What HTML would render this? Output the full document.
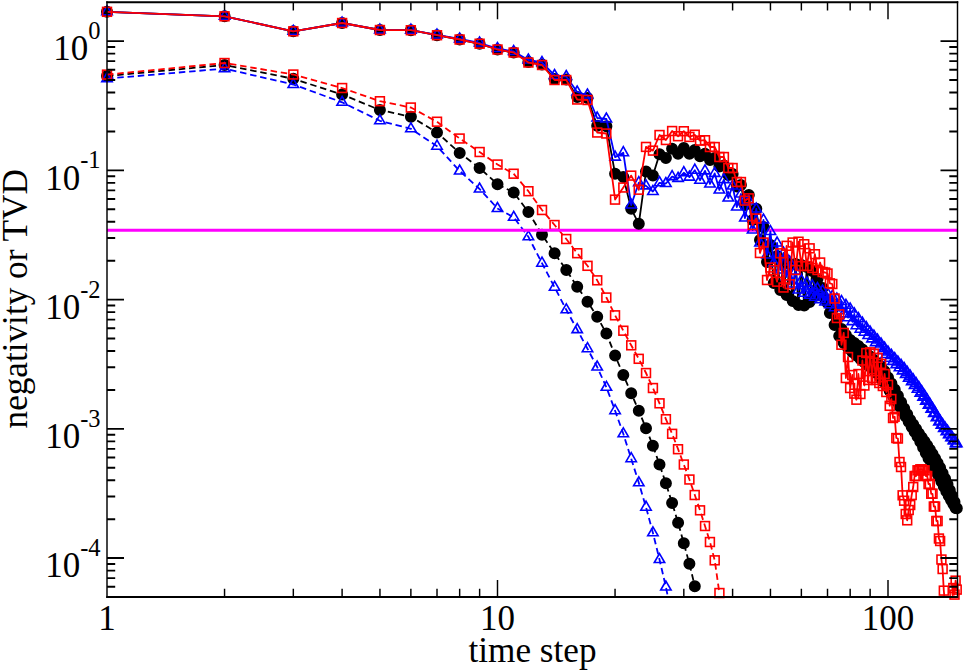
<!DOCTYPE html>
<html><head><meta charset="utf-8"><title>negativity or TVD vs time step</title>
<style>
html,body{margin:0;padding:0;background:#fff;}
body{width:966px;height:672px;overflow:hidden;}
svg{display:block;}
text{font-family:"Liberation Serif",serif;fill:#000;}
</style></head><body>
<svg width="966" height="672" viewBox="0 0 966 672">
<defs><clipPath id="c"><rect x="107.00" y="2.20" width="850.50" height="594.80"/></clipPath></defs>
<rect width="966" height="672" fill="#fff"/>
<path d="M107.0 76.0 L224.6 65.0 L293.3 78.8 L342.1 94.5 L379.9 110.0 L410.9 116.8 L437.0 132.5 L459.7 153.0 L479.6 168.0 L497.5 184.2 L513.7 192.5 L528.4 212.0 L542.0 234.7 L554.6 253.3 L566.3 270.0 L577.2 286.7 L587.5 301.7 L597.2 316.7 L606.4 333.5 L615.1 355.5 L623.3 375.0 L631.2 393.3 L638.8 410.8 L646.0 428.2 L652.9 445.8 L659.5 464.5 L665.9 483.3 L672.1 503.0 L678.1 522.8 L683.8 543.3 L689.4 563.8 L694.8 586.2" fill="none" stroke="#000" stroke-width="1.80" stroke-linejoin="round" stroke-dasharray="6.5 3.8" clip-path="url(#c)"/><g fill="#000" stroke="#000" stroke-width="1.60"><circle cx="107.0" cy="76.0" r="5.20"/><circle cx="224.6" cy="65.0" r="5.20"/><circle cx="293.3" cy="78.8" r="5.20"/><circle cx="342.1" cy="94.5" r="5.20"/><circle cx="379.9" cy="110.0" r="5.20"/><circle cx="410.9" cy="116.8" r="5.20"/><circle cx="437.0" cy="132.5" r="5.20"/><circle cx="459.7" cy="153.0" r="5.20"/><circle cx="479.6" cy="168.0" r="5.20"/><circle cx="497.5" cy="184.2" r="5.20"/><circle cx="513.7" cy="192.5" r="5.20"/><circle cx="528.4" cy="212.0" r="5.20"/><circle cx="542.0" cy="234.7" r="5.20"/><circle cx="554.6" cy="253.3" r="5.20"/><circle cx="566.3" cy="270.0" r="5.20"/><circle cx="577.2" cy="286.7" r="5.20"/><circle cx="587.5" cy="301.7" r="5.20"/><circle cx="597.2" cy="316.7" r="5.20"/><circle cx="606.4" cy="333.5" r="5.20"/><circle cx="615.1" cy="355.5" r="5.20"/><circle cx="623.3" cy="375.0" r="5.20"/><circle cx="631.2" cy="393.3" r="5.20"/><circle cx="638.8" cy="410.8" r="5.20"/><circle cx="646.0" cy="428.2" r="5.20"/><circle cx="652.9" cy="445.8" r="5.20"/><circle cx="659.5" cy="464.5" r="5.20"/><circle cx="665.9" cy="483.3" r="5.20"/><circle cx="672.1" cy="503.0" r="5.20"/><circle cx="678.1" cy="522.8" r="5.20"/><circle cx="683.8" cy="543.3" r="5.20"/><circle cx="689.4" cy="563.8" r="5.20"/><circle cx="694.8" cy="586.2" r="5.20"/></g>
<path d="M107.0 78.6 L224.6 68.6 L293.3 84.5 L342.1 102.3 L379.9 120.8 L410.9 128.8 L437.0 146.2 L459.7 171.0 L479.6 189.0 L497.5 208.5 L513.7 217.3 L528.4 236.8 L542.0 263.2 L554.6 287.3 L566.3 309.8 L577.2 329.6 L587.5 348.7 L597.2 367.0 L606.4 387.3 L615.1 410.7 L623.3 433.8 L631.2 458.7 L638.8 482.8 L646.0 507.2 L652.9 532.8 L659.5 559.5 L665.9 587.0 L672.1 618.0" fill="none" stroke="#0000ff" stroke-width="1.80" stroke-linejoin="round" stroke-dasharray="6.5 3.8" clip-path="url(#c)"/><g fill="none" stroke="#0000ff" stroke-width="1.60"><path d="M107.0 72.6L101.8 81.6L112.2 81.6Z"/><path d="M224.6 62.6L219.4 71.6L229.8 71.6Z"/><path d="M293.3 78.5L288.1 87.5L298.5 87.5Z"/><path d="M342.1 96.3L336.9 105.3L347.3 105.3Z"/><path d="M379.9 114.8L374.7 123.8L385.1 123.8Z"/><path d="M410.9 122.8L405.7 131.8L416.1 131.8Z"/><path d="M437.0 140.2L431.8 149.2L442.2 149.2Z"/><path d="M459.7 165.0L454.5 174.0L464.9 174.0Z"/><path d="M479.6 183.0L474.4 192.0L484.8 192.0Z"/><path d="M497.5 202.5L492.3 211.5L502.7 211.5Z"/><path d="M513.7 211.3L508.5 220.3L518.9 220.3Z"/><path d="M528.4 230.8L523.2 239.8L533.6 239.8Z"/><path d="M542.0 257.2L536.8 266.2L547.2 266.2Z"/><path d="M554.6 281.3L549.4 290.3L559.8 290.3Z"/><path d="M566.3 303.8L561.1 312.8L571.5 312.8Z"/><path d="M577.2 323.6L572.0 332.6L582.4 332.6Z"/><path d="M587.5 342.7L582.3 351.7L592.7 351.7Z"/><path d="M597.2 361.0L592.0 370.0L602.4 370.0Z"/><path d="M606.4 381.3L601.2 390.3L611.6 390.3Z"/><path d="M615.1 404.7L609.9 413.7L620.3 413.7Z"/><path d="M623.3 427.8L618.1 436.8L628.5 436.8Z"/><path d="M631.2 452.7L626.0 461.7L636.4 461.7Z"/><path d="M638.8 476.8L633.6 485.8L644.0 485.8Z"/><path d="M646.0 501.2L640.8 510.2L651.2 510.2Z"/><path d="M652.9 526.8L647.7 535.8L658.1 535.8Z"/><path d="M659.5 553.5L654.3 562.5L664.7 562.5Z"/><path d="M665.9 581.0L660.7 590.0L671.1 590.0Z"/></g>
<path d="M107.0 74.6 L224.6 63.0 L293.3 74.5 L342.1 88.0 L379.9 101.2 L410.9 107.5 L437.0 121.8 L459.7 138.5 L479.6 152.0 L497.5 164.5 L513.7 173.8 L528.4 191.2 L542.0 210.0 L554.6 225.0 L566.3 239.0 L577.2 253.2 L587.5 265.8 L597.2 280.3 L606.4 297.5 L615.1 315.3 L623.3 330.7 L631.2 345.3 L638.8 358.8 L646.0 373.0 L652.9 388.0 L659.5 403.3 L665.9 419.2 L672.1 433.8 L678.1 449.2 L683.8 464.5 L689.4 479.5 L694.8 495.0 L700.0 510.3 L705.0 526.0 L710.0 542.0 L714.7 560.3 L719.4 593.0" fill="none" stroke="#ff0000" stroke-width="1.80" stroke-linejoin="round" stroke-dasharray="6.5 3.8" clip-path="url(#c)"/><g fill="none" stroke="#ff0000" stroke-width="1.60"><rect x="102.6" y="70.2" width="8.84" height="8.84"/><rect x="220.1" y="58.6" width="8.84" height="8.84"/><rect x="288.9" y="70.1" width="8.84" height="8.84"/><rect x="337.7" y="83.6" width="8.84" height="8.84"/><rect x="375.5" y="96.8" width="8.84" height="8.84"/><rect x="406.4" y="103.1" width="8.84" height="8.84"/><rect x="432.6" y="117.3" width="8.84" height="8.84"/><rect x="455.2" y="134.1" width="8.84" height="8.84"/><rect x="475.2" y="147.6" width="8.84" height="8.84"/><rect x="493.1" y="160.1" width="8.84" height="8.84"/><rect x="509.2" y="169.3" width="8.84" height="8.84"/><rect x="524.0" y="186.8" width="8.84" height="8.84"/><rect x="537.6" y="205.6" width="8.84" height="8.84"/><rect x="550.1" y="220.6" width="8.84" height="8.84"/><rect x="561.8" y="234.6" width="8.84" height="8.84"/><rect x="572.8" y="248.8" width="8.84" height="8.84"/><rect x="583.1" y="261.4" width="8.84" height="8.84"/><rect x="592.8" y="275.9" width="8.84" height="8.84"/><rect x="601.9" y="293.1" width="8.84" height="8.84"/><rect x="610.6" y="310.9" width="8.84" height="8.84"/><rect x="618.9" y="326.3" width="8.84" height="8.84"/><rect x="626.8" y="340.9" width="8.84" height="8.84"/><rect x="634.3" y="354.4" width="8.84" height="8.84"/><rect x="641.6" y="368.6" width="8.84" height="8.84"/><rect x="648.5" y="383.6" width="8.84" height="8.84"/><rect x="655.1" y="398.9" width="8.84" height="8.84"/><rect x="661.5" y="414.8" width="8.84" height="8.84"/><rect x="667.7" y="429.4" width="8.84" height="8.84"/><rect x="673.6" y="444.8" width="8.84" height="8.84"/><rect x="679.4" y="460.1" width="8.84" height="8.84"/><rect x="685.0" y="475.1" width="8.84" height="8.84"/><rect x="690.3" y="490.6" width="8.84" height="8.84"/><rect x="695.6" y="505.9" width="8.84" height="8.84"/><rect x="700.6" y="521.6" width="8.84" height="8.84"/><rect x="705.5" y="537.6" width="8.84" height="8.84"/><rect x="710.3" y="555.9" width="8.84" height="8.84"/><rect x="715.0" y="588.6" width="8.84" height="8.84"/></g>
<line x1="107.0" y1="230.3" x2="957.5" y2="230.3" stroke="#ff00ff" stroke-width="3.0"/>
<path d="M107.0 11.8 L224.6 16.3 L293.3 31.3 L342.1 23.0 L379.9 30.0 L410.9 30.2 L437.0 35.2 L459.7 39.5 L479.6 43.8 L497.5 49.5 L513.7 52.5 L528.4 62.0 L542.0 64.5 L554.6 79.0 L566.3 79.5 L577.2 97.0 L587.5 98.0 L597.2 125.7 L606.4 126.2 L615.1 173.8 L623.3 177.0 L631.2 208.8 L638.8 223.8 L646.0 171.5 L652.9 175.5 L659.5 154.2 L665.9 158.1 L672.1 148.8 L678.1 153.8 L683.8 148.1 L689.4 153.8 L694.8 150.0 L700.0 156.2 L705.0 153.8 L710.0 160.0 L714.7 158.0 L719.4 166.5 L723.9 165.5 L728.3 175.0 L732.6 174.0 L736.8 186.5 L740.9 185.0 L744.9 205.0 L748.8 195.0 L752.6 220.0 L756.3 208.8 L760.0 240.0 L763.5 227.0 L767.0 262.0 L770.4 245.0 L773.8 283.0 L777.1 256.0 L780.3 290.0 L783.5 262.0 L786.6 295.0 L789.7 264.0 L792.7 301.0 L795.6 264.0 L798.5 305.0 L801.4 265.0 L804.2 305.5 L806.9 267.0 L809.6 302.0 L812.3 271.0 L814.9 296.0 L817.5 279.0 L820.1 289.0 L822.6 288.0 L825.1 299.0 L827.5 303.0 L829.9 313.0 L832.3 310.0 L834.6 325.0 L836.9 320.0 L839.2 336.0 L841.5 329.0 L843.7 343.0 L845.9 335.0 L848.0 348.0 L850.2 340.0 L852.3 352.0 L854.3 343.0 L856.4 355.5 L858.4 346.0 L860.4 359.0 L862.4 349.5 L864.4 362.3 L866.3 353.0 L868.2 365.4 L870.1 356.5 L872.0 368.8 L873.9 360.0 L875.7 372.5 L877.5 363.3 L879.3 376.0 L881.1 366.4 L882.8 380.9 L884.6 371.2 L886.3 385.6 L888.0 377.4 L889.7 390.7 L891.4 383.5 L893.0 395.9 L894.7 389.5 L896.3 401.0 L897.9 395.8 L899.5 406.3 L901.1 402.2 L902.6 411.4 L904.2 408.5 L905.7 416.6 L907.2 414.3 L908.7 421.8 L910.2 420.0 L911.7 426.9 L913.2 424.6 L914.6 431.8 L916.1 429.1 L917.5 436.6 L918.9 433.5 L920.3 441.8 L921.7 437.6 L923.1 447.4 L924.5 441.6 L925.8 452.9 L927.2 445.6 L928.5 458.3 L929.9 449.7 L931.2 463.1 L932.5 454.1 L933.8 467.7 L935.1 458.5 L936.4 472.2 L937.6 462.9 L938.9 476.6 L940.1 467.8 L941.4 481.6 L942.6 473.3 L943.8 486.5 L945.1 478.8 L946.3 491.3 L947.5 484.2 L948.7 495.8 L949.8 490.2 L951.0 499.9 L952.2 496.1 L953.3 504.0 L954.5 502.1 L955.6 508.0 L956.8 508.3" fill="none" stroke="#000" stroke-width="1.80" stroke-linejoin="round" clip-path="url(#c)"/><g fill="#000" stroke="#000" stroke-width="1.60"><circle cx="107.0" cy="11.8" r="5.20"/><circle cx="224.6" cy="16.3" r="5.20"/><circle cx="293.3" cy="31.3" r="5.20"/><circle cx="342.1" cy="23.0" r="5.20"/><circle cx="379.9" cy="30.0" r="5.20"/><circle cx="410.9" cy="30.2" r="5.20"/><circle cx="437.0" cy="35.2" r="5.20"/><circle cx="459.7" cy="39.5" r="5.20"/><circle cx="479.6" cy="43.8" r="5.20"/><circle cx="497.5" cy="49.5" r="5.20"/><circle cx="513.7" cy="52.5" r="5.20"/><circle cx="528.4" cy="62.0" r="5.20"/><circle cx="542.0" cy="64.5" r="5.20"/><circle cx="554.6" cy="79.0" r="5.20"/><circle cx="566.3" cy="79.5" r="5.20"/><circle cx="577.2" cy="97.0" r="5.20"/><circle cx="587.5" cy="98.0" r="5.20"/><circle cx="597.2" cy="125.7" r="5.20"/><circle cx="606.4" cy="126.2" r="5.20"/><circle cx="615.1" cy="173.8" r="5.20"/><circle cx="623.3" cy="177.0" r="5.20"/><circle cx="631.2" cy="208.8" r="5.20"/><circle cx="638.8" cy="223.8" r="5.20"/><circle cx="646.0" cy="171.5" r="5.20"/><circle cx="652.9" cy="175.5" r="5.20"/><circle cx="659.5" cy="154.2" r="5.20"/><circle cx="665.9" cy="158.1" r="5.20"/><circle cx="672.1" cy="148.8" r="5.20"/><circle cx="678.1" cy="153.8" r="5.20"/><circle cx="683.8" cy="148.1" r="5.20"/><circle cx="689.4" cy="153.8" r="5.20"/><circle cx="694.8" cy="150.0" r="5.20"/><circle cx="700.0" cy="156.2" r="5.20"/><circle cx="705.0" cy="153.8" r="5.20"/><circle cx="710.0" cy="160.0" r="5.20"/><circle cx="714.7" cy="158.0" r="5.20"/><circle cx="719.4" cy="166.5" r="5.20"/><circle cx="723.9" cy="165.5" r="5.20"/><circle cx="728.3" cy="175.0" r="5.20"/><circle cx="732.6" cy="174.0" r="5.20"/><circle cx="736.8" cy="186.5" r="5.20"/><circle cx="740.9" cy="185.0" r="5.20"/><circle cx="744.9" cy="205.0" r="5.20"/><circle cx="748.8" cy="195.0" r="5.20"/><circle cx="752.6" cy="220.0" r="5.20"/><circle cx="756.3" cy="208.8" r="5.20"/><circle cx="760.0" cy="240.0" r="5.20"/><circle cx="763.5" cy="227.0" r="5.20"/><circle cx="767.0" cy="262.0" r="5.20"/><circle cx="770.4" cy="245.0" r="5.20"/><circle cx="773.8" cy="283.0" r="5.20"/><circle cx="777.1" cy="256.0" r="5.20"/><circle cx="780.3" cy="290.0" r="5.20"/><circle cx="783.5" cy="262.0" r="5.20"/><circle cx="786.6" cy="295.0" r="5.20"/><circle cx="789.7" cy="264.0" r="5.20"/><circle cx="792.7" cy="301.0" r="5.20"/><circle cx="795.6" cy="264.0" r="5.20"/><circle cx="798.5" cy="305.0" r="5.20"/><circle cx="801.4" cy="265.0" r="5.20"/><circle cx="804.2" cy="305.5" r="5.20"/><circle cx="806.9" cy="267.0" r="5.20"/><circle cx="809.6" cy="302.0" r="5.20"/><circle cx="812.3" cy="271.0" r="5.20"/><circle cx="814.9" cy="296.0" r="5.20"/><circle cx="817.5" cy="279.0" r="5.20"/><circle cx="820.1" cy="289.0" r="5.20"/><circle cx="822.6" cy="288.0" r="5.20"/><circle cx="825.1" cy="299.0" r="5.20"/><circle cx="827.5" cy="303.0" r="5.20"/><circle cx="829.9" cy="313.0" r="5.20"/><circle cx="832.3" cy="310.0" r="5.20"/><circle cx="834.6" cy="325.0" r="5.20"/><circle cx="836.9" cy="320.0" r="5.20"/><circle cx="839.2" cy="336.0" r="5.20"/><circle cx="841.5" cy="329.0" r="5.20"/><circle cx="843.7" cy="343.0" r="5.20"/><circle cx="845.9" cy="335.0" r="5.20"/><circle cx="848.0" cy="348.0" r="5.20"/><circle cx="850.2" cy="340.0" r="5.20"/><circle cx="852.3" cy="352.0" r="5.20"/><circle cx="854.3" cy="343.0" r="5.20"/><circle cx="856.4" cy="355.5" r="5.20"/><circle cx="858.4" cy="346.0" r="5.20"/><circle cx="860.4" cy="359.0" r="5.20"/><circle cx="862.4" cy="349.5" r="5.20"/><circle cx="864.4" cy="362.3" r="5.20"/><circle cx="866.3" cy="353.0" r="5.20"/><circle cx="868.2" cy="365.4" r="5.20"/><circle cx="870.1" cy="356.5" r="5.20"/><circle cx="872.0" cy="368.8" r="5.20"/><circle cx="873.9" cy="360.0" r="5.20"/><circle cx="875.7" cy="372.5" r="5.20"/><circle cx="877.5" cy="363.3" r="5.20"/><circle cx="879.3" cy="376.0" r="5.20"/><circle cx="881.1" cy="366.4" r="5.20"/><circle cx="882.8" cy="380.9" r="5.20"/><circle cx="884.6" cy="371.2" r="5.20"/><circle cx="886.3" cy="385.6" r="5.20"/><circle cx="888.0" cy="377.4" r="5.20"/><circle cx="889.7" cy="390.7" r="5.20"/><circle cx="891.4" cy="383.5" r="5.20"/><circle cx="893.0" cy="395.9" r="5.20"/><circle cx="894.7" cy="389.5" r="5.20"/><circle cx="896.3" cy="401.0" r="5.20"/><circle cx="897.9" cy="395.8" r="5.20"/><circle cx="899.5" cy="406.3" r="5.20"/><circle cx="901.1" cy="402.2" r="5.20"/><circle cx="902.6" cy="411.4" r="5.20"/><circle cx="904.2" cy="408.5" r="5.20"/><circle cx="905.7" cy="416.6" r="5.20"/><circle cx="907.2" cy="414.3" r="5.20"/><circle cx="908.7" cy="421.8" r="5.20"/><circle cx="910.2" cy="420.0" r="5.20"/><circle cx="911.7" cy="426.9" r="5.20"/><circle cx="913.2" cy="424.6" r="5.20"/><circle cx="914.6" cy="431.8" r="5.20"/><circle cx="916.1" cy="429.1" r="5.20"/><circle cx="917.5" cy="436.6" r="5.20"/><circle cx="918.9" cy="433.5" r="5.20"/><circle cx="920.3" cy="441.8" r="5.20"/><circle cx="921.7" cy="437.6" r="5.20"/><circle cx="923.1" cy="447.4" r="5.20"/><circle cx="924.5" cy="441.6" r="5.20"/><circle cx="925.8" cy="452.9" r="5.20"/><circle cx="927.2" cy="445.6" r="5.20"/><circle cx="928.5" cy="458.3" r="5.20"/><circle cx="929.9" cy="449.7" r="5.20"/><circle cx="931.2" cy="463.1" r="5.20"/><circle cx="932.5" cy="454.1" r="5.20"/><circle cx="933.8" cy="467.7" r="5.20"/><circle cx="935.1" cy="458.5" r="5.20"/><circle cx="936.4" cy="472.2" r="5.20"/><circle cx="937.6" cy="462.9" r="5.20"/><circle cx="938.9" cy="476.6" r="5.20"/><circle cx="940.1" cy="467.8" r="5.20"/><circle cx="941.4" cy="481.6" r="5.20"/><circle cx="942.6" cy="473.3" r="5.20"/><circle cx="943.8" cy="486.5" r="5.20"/><circle cx="945.1" cy="478.8" r="5.20"/><circle cx="946.3" cy="491.3" r="5.20"/><circle cx="947.5" cy="484.2" r="5.20"/><circle cx="948.7" cy="495.8" r="5.20"/><circle cx="949.8" cy="490.2" r="5.20"/><circle cx="951.0" cy="499.9" r="5.20"/><circle cx="952.2" cy="496.1" r="5.20"/><circle cx="953.3" cy="504.0" r="5.20"/><circle cx="954.5" cy="502.1" r="5.20"/><circle cx="955.6" cy="508.0" r="5.20"/><circle cx="956.8" cy="508.3" r="5.20"/></g>
<path d="M107.0 11.8 L224.6 16.3 L293.3 31.3 L342.1 23.0 L379.9 30.0 L410.9 30.2 L437.0 35.0 L459.7 39.0 L479.6 43.0 L497.5 48.5 L513.7 51.5 L528.4 60.0 L542.0 62.5 L554.6 75.5 L566.3 76.5 L577.2 92.0 L587.5 95.0 L597.2 118.0 L606.4 119.0 L615.1 157.1 L623.3 152.8 L631.2 205.0 L638.8 182.8 L646.0 185.9 L652.9 191.5 L659.5 182.8 L665.9 183.5 L672.1 176.6 L678.1 178.4 L683.8 172.8 L689.4 177.1 L694.8 170.2 L700.0 180.2 L705.0 170.9 L710.0 184.0 L714.7 173.4 L719.4 190.0 L723.9 179.6 L728.3 198.0 L732.6 186.0 L736.8 207.0 L740.9 194.0 L744.9 218.0 L748.8 201.0 L752.6 230.0 L756.3 209.0 L760.0 243.0 L763.5 220.0 L767.0 255.0 L770.4 231.5 L773.8 263.0 L777.1 243.0 L780.3 270.0 L783.5 253.0 L786.6 277.0 L789.7 262.0 L792.7 284.0 L795.6 271.0 L798.5 290.0 L801.4 280.5 L804.2 293.2 L806.9 283.3 L809.6 295.2 L812.3 285.9 L814.9 297.2 L817.5 288.5 L820.1 299.6 L822.6 291.0 L825.1 302.0 L827.5 293.7 L829.9 304.8 L832.3 296.4 L834.6 307.8 L836.9 299.0 L839.2 310.7 L841.5 301.5 L843.7 313.9 L845.9 305.3 L848.0 317.7 L850.2 309.0 L852.3 321.6 L854.3 313.9 L856.4 325.7 L858.4 318.7 L860.4 329.2 L862.4 323.3 L864.4 332.2 L866.3 327.7 L868.2 335.5 L870.1 332.0 L872.0 338.9 L873.9 336.1 L875.7 342.6 L877.5 340.0 L879.3 346.5 L881.1 344.0 L882.8 350.6 L884.6 348.1 L886.3 354.5 L888.0 352.0 L889.7 358.2 L891.4 355.4 L893.0 361.4 L894.7 358.7 L896.3 364.6 L897.9 362.0 L899.5 367.8 L901.1 365.3 L902.6 370.9 L904.2 368.5 L905.7 374.4 L907.2 372.4 L908.7 378.1 L910.2 376.1 L911.7 381.7 L913.2 379.9 L914.6 385.5 L916.1 383.7 L917.5 389.2 L918.9 387.5 L920.3 393.1 L921.7 391.8 L923.1 397.1 L924.5 395.9 L925.8 401.2 L927.2 400.1 L928.5 405.3 L929.9 404.3 L931.2 409.3 L932.5 408.5 L933.8 413.5 L935.1 412.9 L936.4 417.8 L937.6 417.3 L938.9 422.0 L940.1 421.2 L941.4 425.3 L942.6 424.6 L943.8 428.5 L945.1 428.0 L946.3 431.7 L947.5 431.2 L948.7 434.8 L949.8 434.4 L951.0 437.8 L952.2 437.5 L953.3 440.8 L954.5 440.6 L955.6 443.7 L956.8 443.6" fill="none" stroke="#0000ff" stroke-width="1.80" stroke-linejoin="round" clip-path="url(#c)"/><g fill="none" stroke="#0000ff" stroke-width="1.60"><path d="M107.0 5.8L101.8 14.8L112.2 14.8Z"/><path d="M224.6 10.3L219.4 19.3L229.8 19.3Z"/><path d="M293.3 25.3L288.1 34.3L298.5 34.3Z"/><path d="M342.1 17.0L336.9 26.0L347.3 26.0Z"/><path d="M379.9 24.0L374.7 33.0L385.1 33.0Z"/><path d="M410.9 24.2L405.7 33.3L416.1 33.3Z"/><path d="M437.0 29.0L431.8 38.0L442.2 38.0Z"/><path d="M459.7 33.0L454.5 42.0L464.9 42.0Z"/><path d="M479.6 37.0L474.4 46.0L484.8 46.0Z"/><path d="M497.5 42.5L492.3 51.5L502.7 51.5Z"/><path d="M513.7 45.5L508.5 54.5L518.9 54.5Z"/><path d="M528.4 54.0L523.2 63.0L533.6 63.0Z"/><path d="M542.0 56.5L536.8 65.5L547.2 65.5Z"/><path d="M554.6 69.5L549.4 78.5L559.8 78.5Z"/><path d="M566.3 70.5L561.1 79.5L571.5 79.5Z"/><path d="M577.2 86.0L572.0 95.0L582.4 95.0Z"/><path d="M587.5 89.0L582.3 98.0L592.7 98.0Z"/><path d="M597.2 112.0L592.0 121.0L602.4 121.0Z"/><path d="M606.4 113.0L601.2 122.0L611.6 122.0Z"/><path d="M615.1 151.1L609.9 160.1L620.3 160.1Z"/><path d="M623.3 146.7L618.1 155.8L628.5 155.8Z"/><path d="M631.2 199.0L626.0 208.0L636.4 208.0Z"/><path d="M638.8 176.7L633.6 185.8L644.0 185.8Z"/><path d="M646.0 179.9L640.8 188.9L651.2 188.9Z"/><path d="M652.9 185.5L647.7 194.5L658.1 194.5Z"/><path d="M659.5 176.7L654.3 185.8L664.7 185.8Z"/><path d="M665.9 177.5L660.7 186.5L671.1 186.5Z"/><path d="M672.1 170.6L666.9 179.6L677.3 179.6Z"/><path d="M678.1 172.4L672.9 181.4L683.3 181.4Z"/><path d="M683.8 166.7L678.6 175.8L689.0 175.8Z"/><path d="M689.4 171.1L684.2 180.1L694.6 180.1Z"/><path d="M694.8 164.2L689.6 173.3L700.0 173.3Z"/><path d="M700.0 174.2L694.8 183.3L705.2 183.3Z"/><path d="M705.0 164.9L699.8 173.9L710.2 173.9Z"/><path d="M710.0 178.0L704.8 187.0L715.2 187.0Z"/><path d="M714.7 167.4L709.5 176.4L719.9 176.4Z"/><path d="M719.4 184.0L714.2 193.0L724.6 193.0Z"/><path d="M723.9 173.6L718.7 182.6L729.1 182.6Z"/><path d="M728.3 192.0L723.1 201.0L733.5 201.0Z"/><path d="M732.6 180.0L727.4 189.0L737.8 189.0Z"/><path d="M736.8 201.0L731.6 210.0L742.0 210.0Z"/><path d="M740.9 188.0L735.7 197.0L746.1 197.0Z"/><path d="M744.9 212.0L739.7 221.0L750.1 221.0Z"/><path d="M748.8 195.0L743.6 204.0L754.0 204.0Z"/><path d="M752.6 224.0L747.4 233.0L757.8 233.0Z"/><path d="M756.3 203.0L751.1 212.0L761.5 212.0Z"/><path d="M760.0 237.0L754.8 246.0L765.2 246.0Z"/><path d="M763.5 214.0L758.3 223.0L768.7 223.0Z"/><path d="M767.0 249.0L761.8 258.0L772.2 258.0Z"/><path d="M770.4 225.5L765.2 234.5L775.6 234.5Z"/><path d="M773.8 257.0L768.6 266.0L779.0 266.0Z"/><path d="M777.1 237.0L771.9 246.0L782.3 246.0Z"/><path d="M780.3 264.0L775.1 273.0L785.5 273.0Z"/><path d="M783.5 247.0L778.3 256.0L788.7 256.0Z"/><path d="M786.6 271.0L781.4 280.0L791.8 280.0Z"/><path d="M789.7 256.0L784.5 265.0L794.9 265.0Z"/><path d="M792.7 278.0L787.5 287.0L797.9 287.0Z"/><path d="M795.6 265.0L790.4 274.0L800.8 274.0Z"/><path d="M798.5 284.0L793.3 293.0L803.7 293.0Z"/><path d="M801.4 274.5L796.2 283.5L806.6 283.5Z"/><path d="M804.2 287.2L799.0 296.2L809.4 296.2Z"/><path d="M806.9 277.2L801.7 286.3L812.1 286.3Z"/><path d="M809.6 289.2L804.4 298.2L814.8 298.2Z"/><path d="M812.3 279.9L807.1 288.9L817.5 288.9Z"/><path d="M814.9 291.2L809.7 300.2L820.1 300.2Z"/><path d="M817.5 282.5L812.3 291.5L822.7 291.5Z"/><path d="M820.1 293.5L814.9 302.6L825.3 302.6Z"/><path d="M822.6 285.0L817.4 294.0L827.8 294.0Z"/><path d="M825.1 296.0L819.9 305.0L830.3 305.0Z"/><path d="M827.5 287.7L822.3 296.7L832.7 296.7Z"/><path d="M829.9 298.8L824.7 307.8L835.1 307.8Z"/><path d="M832.3 290.4L827.1 299.4L837.5 299.4Z"/><path d="M834.6 301.8L829.4 310.8L839.8 310.8Z"/><path d="M836.9 293.0L831.7 302.0L842.1 302.0Z"/><path d="M839.2 304.7L834.0 313.8L844.4 313.8Z"/><path d="M841.5 295.5L836.3 304.5L846.7 304.5Z"/><path d="M843.7 307.9L838.5 316.9L848.9 316.9Z"/><path d="M845.9 299.3L840.7 308.3L851.1 308.3Z"/><path d="M848.0 311.7L842.8 320.7L853.2 320.7Z"/><path d="M850.2 303.0L845.0 312.0L855.4 312.0Z"/><path d="M852.3 315.6L847.1 324.6L857.5 324.6Z"/><path d="M854.3 307.9L849.1 316.9L859.5 316.9Z"/><path d="M856.4 319.7L851.2 328.7L861.6 328.7Z"/><path d="M858.4 312.7L853.2 321.7L863.6 321.7Z"/><path d="M860.4 323.2L855.2 332.2L865.6 332.2Z"/><path d="M862.4 317.2L857.2 326.3L867.6 326.3Z"/><path d="M864.4 326.2L859.2 335.2L869.6 335.2Z"/><path d="M866.3 321.7L861.1 330.7L871.5 330.7Z"/><path d="M868.2 329.5L863.0 338.5L873.4 338.5Z"/><path d="M870.1 326.0L864.9 335.0L875.3 335.0Z"/><path d="M872.0 332.9L866.8 341.9L877.2 341.9Z"/><path d="M873.9 330.1L868.7 339.1L879.1 339.1Z"/><path d="M875.7 336.6L870.5 345.6L880.9 345.6Z"/><path d="M877.5 334.0L872.3 343.0L882.7 343.0Z"/><path d="M879.3 340.5L874.1 349.5L884.5 349.5Z"/><path d="M881.1 338.0L875.9 347.0L886.3 347.0Z"/><path d="M882.8 344.6L877.6 353.6L888.0 353.6Z"/><path d="M884.6 342.1L879.4 351.1L889.8 351.1Z"/><path d="M886.3 348.5L881.1 357.5L891.5 357.5Z"/><path d="M888.0 346.0L882.8 355.0L893.2 355.0Z"/><path d="M889.7 352.1L884.5 361.2L894.9 361.2Z"/><path d="M891.4 349.4L886.2 358.4L896.6 358.4Z"/><path d="M893.0 355.4L887.8 364.4L898.2 364.4Z"/><path d="M894.7 352.7L889.5 361.7L899.9 361.7Z"/><path d="M896.3 358.6L891.1 367.6L901.5 367.6Z"/><path d="M897.9 356.0L892.7 365.0L903.1 365.0Z"/><path d="M899.5 361.8L894.3 370.8L904.7 370.8Z"/><path d="M901.1 359.3L895.9 368.3L906.3 368.3Z"/><path d="M902.6 364.9L897.4 373.9L907.8 373.9Z"/><path d="M904.2 362.5L899.0 371.5L909.4 371.5Z"/><path d="M905.7 368.4L900.5 377.4L910.9 377.4Z"/><path d="M907.2 366.3L902.0 375.4L912.4 375.4Z"/><path d="M908.7 372.1L903.5 381.1L913.9 381.1Z"/><path d="M910.2 370.1L905.0 379.1L915.4 379.1Z"/><path d="M911.7 375.7L906.5 384.7L916.9 384.7Z"/><path d="M913.2 373.9L908.0 382.9L918.4 382.9Z"/><path d="M914.6 379.5L909.4 388.5L919.8 388.5Z"/><path d="M916.1 377.7L910.9 386.8L921.3 386.8Z"/><path d="M917.5 383.2L912.3 392.2L922.7 392.2Z"/><path d="M918.9 381.5L913.7 390.5L924.1 390.5Z"/><path d="M920.3 387.1L915.1 396.1L925.5 396.1Z"/><path d="M921.7 385.7L916.5 394.8L926.9 394.8Z"/><path d="M923.1 391.1L917.9 400.1L928.3 400.1Z"/><path d="M924.5 389.9L919.3 398.9L929.7 398.9Z"/><path d="M925.8 395.1L920.6 404.2L931.0 404.2Z"/><path d="M927.2 394.1L922.0 403.1L932.4 403.1Z"/><path d="M928.5 399.3L923.3 408.3L933.7 408.3Z"/><path d="M929.9 398.3L924.7 407.4L935.1 407.4Z"/><path d="M931.2 403.3L926.0 412.3L936.4 412.3Z"/><path d="M932.5 402.5L927.3 411.5L937.7 411.5Z"/><path d="M933.8 407.5L928.6 416.5L939.0 416.5Z"/><path d="M935.1 406.9L929.9 416.0L940.3 416.0Z"/><path d="M936.4 411.8L931.2 420.8L941.6 420.8Z"/><path d="M937.6 411.3L932.4 420.3L942.8 420.3Z"/><path d="M938.9 416.0L933.7 425.0L944.1 425.0Z"/><path d="M940.1 415.2L934.9 424.2L945.3 424.2Z"/><path d="M941.4 419.3L936.2 428.3L946.6 428.3Z"/><path d="M942.6 418.6L937.4 427.6L947.8 427.6Z"/><path d="M943.8 422.5L938.6 431.5L949.0 431.5Z"/><path d="M945.1 422.0L939.9 431.0L950.3 431.0Z"/><path d="M946.3 425.7L941.1 434.7L951.5 434.7Z"/><path d="M947.5 425.2L942.3 434.2L952.7 434.2Z"/><path d="M948.7 428.8L943.5 437.8L953.9 437.8Z"/><path d="M949.8 428.4L944.6 437.4L955.0 437.4Z"/><path d="M951.0 431.8L945.8 440.8L956.2 440.8Z"/><path d="M952.2 431.5L947.0 440.5L957.4 440.5Z"/><path d="M953.3 434.8L948.1 443.8L958.5 443.8Z"/><path d="M954.5 434.6L949.3 443.6L959.7 443.6Z"/><path d="M955.6 437.7L950.4 446.7L960.8 446.7Z"/><path d="M956.8 437.6L951.6 446.6L962.0 446.6Z"/></g>
<path d="M107.0 11.8 L224.6 16.3 L293.3 31.3 L342.1 23.0 L379.9 30.0 L410.9 30.2 L437.0 35.2 L459.7 39.5 L479.6 43.8 L497.5 49.5 L513.7 52.5 L528.4 62.5 L542.0 65.0 L554.6 80.0 L566.3 80.0 L577.2 99.5 L587.5 100.0 L597.2 132.5 L606.4 133.5 L615.1 199.6 L623.3 187.5 L631.2 175.6 L638.8 189.8 L646.0 146.9 L652.9 150.6 L659.5 135.0 L665.9 140.0 L672.1 131.0 L678.1 136.2 L683.8 131.2 L689.4 136.9 L694.8 134.8 L700.0 140.6 L705.0 140.2 L710.0 147.0 L714.7 147.0 L719.4 157.0 L723.9 157.0 L728.3 168.0 L732.6 168.0 L736.8 182.0 L740.9 182.0 L744.9 200.6 L748.8 198.3 L752.6 225.0 L756.3 218.5 L760.0 253.0 L763.5 242.5 L767.0 280.0 L770.4 267.5 L773.8 270.0 L777.1 281.7 L780.3 253.3 L783.5 287.5 L786.6 245.8 L789.7 284.2 L792.7 242.5 L795.6 270.0 L798.5 241.7 L801.4 266.0 L804.2 244.2 L806.9 266.0 L809.6 248.3 L812.3 268.0 L814.9 254.2 L817.5 270.0 L820.1 262.5 L822.6 272.0 L825.1 272.5 L827.5 273.5 L829.9 283.3 L832.3 284.0 L834.6 298.5 L836.9 318.0 L839.2 314.3 L841.5 344.8 L843.7 332.9 L845.9 378.0 L848.0 357.0 L850.2 388.0 L852.3 375.0 L854.3 393.6 L856.4 399.7 L858.4 374.0 L860.4 394.0 L862.4 360.5 L864.4 385.5 L866.3 353.0 L868.2 380.0 L870.1 352.3 L872.0 378.0 L873.9 353.7 L875.7 380.0 L877.5 357.8 L879.3 383.0 L881.1 363.9 L882.8 386.0 L884.6 374.0 L886.3 392.0 L888.0 384.8 L889.7 405.8 L891.4 399.0 L893.0 418.0 L894.7 416.7 L896.3 438.0 L897.9 438.5 L899.5 462.0 L901.1 467.0 L902.6 495.3 L904.2 500.7 L905.7 514.0 L907.2 520.3 L908.7 510.0 L910.2 505.0 L911.7 495.0 L913.2 487.0 L914.6 476.0 L916.1 476.0 L917.5 470.3 L918.9 470.3 L920.3 469.3 L921.7 469.3 L923.1 470.3 L924.5 470.3 L925.8 476.0 L927.2 476.0 L928.5 484.0 L929.9 484.0 L931.2 493.8 L932.5 493.8 L933.8 506.5 L935.1 506.5 L936.4 521.0 L937.6 521.0 L938.9 538.5 L940.1 541.0 L941.4 559.5 L942.6 569.0 L943.8 590.6 L945.1 605.0 L946.3 620.0 L947.5 630.0 L948.7 630.0 L949.8 620.0 L951.0 612.0 L952.2 603.0 L953.3 588.0 L954.5 594.6 L955.6 580.6 L956.8 589.6" fill="none" stroke="#ff0000" stroke-width="1.80" stroke-linejoin="round" clip-path="url(#c)"/><g fill="none" stroke="#ff0000" stroke-width="1.60"><rect x="102.6" y="7.4" width="8.84" height="8.84"/><rect x="220.1" y="11.9" width="8.84" height="8.84"/><rect x="288.9" y="26.9" width="8.84" height="8.84"/><rect x="337.7" y="18.6" width="8.84" height="8.84"/><rect x="375.5" y="25.6" width="8.84" height="8.84"/><rect x="406.4" y="25.8" width="8.84" height="8.84"/><rect x="432.6" y="30.8" width="8.84" height="8.84"/><rect x="455.2" y="35.1" width="8.84" height="8.84"/><rect x="475.2" y="39.3" width="8.84" height="8.84"/><rect x="493.1" y="45.1" width="8.84" height="8.84"/><rect x="509.2" y="48.1" width="8.84" height="8.84"/><rect x="524.0" y="58.1" width="8.84" height="8.84"/><rect x="537.6" y="60.6" width="8.84" height="8.84"/><rect x="550.1" y="75.6" width="8.84" height="8.84"/><rect x="561.8" y="75.6" width="8.84" height="8.84"/><rect x="572.8" y="95.1" width="8.84" height="8.84"/><rect x="583.1" y="95.6" width="8.84" height="8.84"/><rect x="592.8" y="128.1" width="8.84" height="8.84"/><rect x="601.9" y="129.1" width="8.84" height="8.84"/><rect x="610.6" y="195.2" width="8.84" height="8.84"/><rect x="618.9" y="183.1" width="8.84" height="8.84"/><rect x="626.8" y="171.2" width="8.84" height="8.84"/><rect x="634.3" y="185.3" width="8.84" height="8.84"/><rect x="641.6" y="142.5" width="8.84" height="8.84"/><rect x="648.5" y="146.2" width="8.84" height="8.84"/><rect x="655.1" y="130.6" width="8.84" height="8.84"/><rect x="661.5" y="135.6" width="8.84" height="8.84"/><rect x="667.7" y="126.6" width="8.84" height="8.84"/><rect x="673.6" y="131.8" width="8.84" height="8.84"/><rect x="679.4" y="126.8" width="8.84" height="8.84"/><rect x="685.0" y="132.5" width="8.84" height="8.84"/><rect x="690.3" y="130.3" width="8.84" height="8.84"/><rect x="695.6" y="136.2" width="8.84" height="8.84"/><rect x="700.6" y="135.8" width="8.84" height="8.84"/><rect x="705.5" y="142.6" width="8.84" height="8.84"/><rect x="710.3" y="142.6" width="8.84" height="8.84"/><rect x="715.0" y="152.6" width="8.84" height="8.84"/><rect x="719.5" y="152.6" width="8.84" height="8.84"/><rect x="723.9" y="163.6" width="8.84" height="8.84"/><rect x="728.2" y="163.6" width="8.84" height="8.84"/><rect x="732.4" y="177.6" width="8.84" height="8.84"/><rect x="736.5" y="177.6" width="8.84" height="8.84"/><rect x="740.4" y="196.2" width="8.84" height="8.84"/><rect x="744.3" y="193.9" width="8.84" height="8.84"/><rect x="748.2" y="220.6" width="8.84" height="8.84"/><rect x="751.9" y="214.1" width="8.84" height="8.84"/><rect x="755.5" y="248.6" width="8.84" height="8.84"/><rect x="759.1" y="238.1" width="8.84" height="8.84"/><rect x="762.6" y="275.6" width="8.84" height="8.84"/><rect x="766.0" y="263.1" width="8.84" height="8.84"/><rect x="769.4" y="265.6" width="8.84" height="8.84"/><rect x="772.7" y="277.3" width="8.84" height="8.84"/><rect x="775.9" y="248.9" width="8.84" height="8.84"/><rect x="779.1" y="283.1" width="8.84" height="8.84"/><rect x="782.2" y="241.4" width="8.84" height="8.84"/><rect x="785.2" y="279.8" width="8.84" height="8.84"/><rect x="788.2" y="238.1" width="8.84" height="8.84"/><rect x="791.2" y="265.6" width="8.84" height="8.84"/><rect x="794.1" y="237.3" width="8.84" height="8.84"/><rect x="796.9" y="261.6" width="8.84" height="8.84"/><rect x="799.8" y="239.8" width="8.84" height="8.84"/><rect x="802.5" y="261.6" width="8.84" height="8.84"/><rect x="805.2" y="243.9" width="8.84" height="8.84"/><rect x="807.9" y="263.6" width="8.84" height="8.84"/><rect x="810.5" y="249.8" width="8.84" height="8.84"/><rect x="813.1" y="265.6" width="8.84" height="8.84"/><rect x="815.7" y="258.1" width="8.84" height="8.84"/><rect x="818.2" y="267.6" width="8.84" height="8.84"/><rect x="820.7" y="268.1" width="8.84" height="8.84"/><rect x="823.1" y="269.1" width="8.84" height="8.84"/><rect x="825.5" y="278.9" width="8.84" height="8.84"/><rect x="827.9" y="279.6" width="8.84" height="8.84"/><rect x="830.2" y="294.1" width="8.84" height="8.84"/><rect x="832.5" y="313.6" width="8.84" height="8.84"/><rect x="834.8" y="309.9" width="8.84" height="8.84"/><rect x="837.0" y="340.3" width="8.84" height="8.84"/><rect x="839.3" y="328.5" width="8.84" height="8.84"/><rect x="841.4" y="373.6" width="8.84" height="8.84"/><rect x="843.6" y="352.6" width="8.84" height="8.84"/><rect x="845.7" y="383.6" width="8.84" height="8.84"/><rect x="847.8" y="370.6" width="8.84" height="8.84"/><rect x="849.9" y="389.2" width="8.84" height="8.84"/><rect x="852.0" y="395.3" width="8.84" height="8.84"/><rect x="854.0" y="369.6" width="8.84" height="8.84"/><rect x="856.0" y="389.6" width="8.84" height="8.84"/><rect x="858.0" y="356.1" width="8.84" height="8.84"/><rect x="860.0" y="381.1" width="8.84" height="8.84"/><rect x="861.9" y="348.6" width="8.84" height="8.84"/><rect x="863.8" y="375.6" width="8.84" height="8.84"/><rect x="865.7" y="347.9" width="8.84" height="8.84"/><rect x="867.6" y="373.6" width="8.84" height="8.84"/><rect x="869.4" y="349.3" width="8.84" height="8.84"/><rect x="871.3" y="375.6" width="8.84" height="8.84"/><rect x="873.1" y="353.4" width="8.84" height="8.84"/><rect x="874.9" y="378.6" width="8.84" height="8.84"/><rect x="876.7" y="359.5" width="8.84" height="8.84"/><rect x="878.4" y="381.6" width="8.84" height="8.84"/><rect x="880.2" y="369.6" width="8.84" height="8.84"/><rect x="881.9" y="387.6" width="8.84" height="8.84"/><rect x="883.6" y="380.4" width="8.84" height="8.84"/><rect x="885.3" y="401.4" width="8.84" height="8.84"/><rect x="886.9" y="394.6" width="8.84" height="8.84"/><rect x="888.6" y="413.6" width="8.84" height="8.84"/><rect x="890.2" y="412.3" width="8.84" height="8.84"/><rect x="891.9" y="433.6" width="8.84" height="8.84"/><rect x="893.5" y="434.1" width="8.84" height="8.84"/><rect x="895.1" y="457.6" width="8.84" height="8.84"/><rect x="896.6" y="462.6" width="8.84" height="8.84"/><rect x="898.2" y="490.9" width="8.84" height="8.84"/><rect x="899.7" y="496.3" width="8.84" height="8.84"/><rect x="901.3" y="509.6" width="8.84" height="8.84"/><rect x="902.8" y="515.9" width="8.84" height="8.84"/><rect x="904.3" y="505.6" width="8.84" height="8.84"/><rect x="905.8" y="500.6" width="8.84" height="8.84"/><rect x="907.3" y="490.6" width="8.84" height="8.84"/><rect x="908.8" y="482.6" width="8.84" height="8.84"/><rect x="910.2" y="471.6" width="8.84" height="8.84"/><rect x="911.6" y="471.6" width="8.84" height="8.84"/><rect x="913.1" y="465.9" width="8.84" height="8.84"/><rect x="914.5" y="465.9" width="8.84" height="8.84"/><rect x="915.9" y="464.9" width="8.84" height="8.84"/><rect x="917.3" y="464.9" width="8.84" height="8.84"/><rect x="918.7" y="465.9" width="8.84" height="8.84"/><rect x="920.1" y="465.9" width="8.84" height="8.84"/><rect x="921.4" y="471.6" width="8.84" height="8.84"/><rect x="922.8" y="471.6" width="8.84" height="8.84"/><rect x="924.1" y="479.6" width="8.84" height="8.84"/><rect x="925.4" y="479.6" width="8.84" height="8.84"/><rect x="926.8" y="489.3" width="8.84" height="8.84"/><rect x="928.1" y="489.3" width="8.84" height="8.84"/><rect x="929.4" y="502.1" width="8.84" height="8.84"/><rect x="930.7" y="502.1" width="8.84" height="8.84"/><rect x="931.9" y="516.6" width="8.84" height="8.84"/><rect x="933.2" y="516.6" width="8.84" height="8.84"/><rect x="934.5" y="534.1" width="8.84" height="8.84"/><rect x="935.7" y="536.6" width="8.84" height="8.84"/><rect x="937.0" y="555.1" width="8.84" height="8.84"/><rect x="938.2" y="564.6" width="8.84" height="8.84"/><rect x="939.4" y="586.2" width="8.84" height="8.84"/><rect x="948.9" y="583.6" width="8.84" height="8.84"/><rect x="950.1" y="590.2" width="8.84" height="8.84"/><rect x="951.2" y="576.2" width="8.84" height="8.84"/><rect x="952.3" y="585.2" width="8.84" height="8.84"/></g>
<path d="M107.00 597.00V580.00M107.00 2.20V19.20M224.55 597.00V588.80M224.55 2.20V10.40M293.32 597.00V588.80M293.32 2.20V10.40M342.10 597.00V588.80M342.10 2.20V10.40M379.95 597.00V588.80M379.95 2.20V10.40M410.87 597.00V588.80M410.87 2.20V10.40M437.01 597.00V588.80M437.01 2.20V10.40M459.66 597.00V588.80M459.66 2.20V10.40M479.63 597.00V588.80M479.63 2.20V10.40M497.50 597.00V580.00M497.50 2.20V19.20M615.05 597.00V588.80M615.05 2.20V10.40M683.82 597.00V588.80M683.82 2.20V10.40M732.60 597.00V588.80M732.60 2.20V10.40M770.45 597.00V588.80M770.45 2.20V10.40M801.37 597.00V588.80M801.37 2.20V10.40M827.51 597.00V588.80M827.51 2.20V10.40M850.16 597.00V588.80M850.16 2.20V10.40M870.13 597.00V588.80M870.13 2.20V10.40M888.00 597.00V580.00M888.00 2.20V19.20M107.00 1.23V597.98M957.50 1.23V597.98" stroke="#000" stroke-width="1.45" fill="none"/>
<path d="M107.00 597.00H115.20M957.50 597.00H949.30M107.00 586.77H115.20M957.50 586.77H949.30M107.00 578.11H115.20M957.50 578.11H949.30M107.00 570.62H115.20M957.50 570.62H949.30M107.00 564.01H115.20M957.50 564.01H949.30M107.00 558.09H124.00M957.50 558.09H940.50M107.00 519.19H115.20M957.50 519.19H949.30M107.00 496.43H115.20M957.50 496.43H949.30M107.00 480.28H115.20M957.50 480.28H949.30M107.00 467.75H115.20M957.50 467.75H949.30M107.00 457.52H115.20M957.50 457.52H949.30M107.00 448.87H115.20M957.50 448.87H949.30M107.00 441.37H115.20M957.50 441.37H949.30M107.00 434.76H115.20M957.50 434.76H949.30M107.00 428.85H124.00M957.50 428.85H940.50M107.00 389.94H115.20M957.50 389.94H949.30M107.00 367.18H115.20M957.50 367.18H949.30M107.00 351.03H115.20M957.50 351.03H949.30M107.00 338.51H115.20M957.50 338.51H949.30M107.00 328.27H115.20M957.50 328.27H949.30M107.00 319.62H115.20M957.50 319.62H949.30M107.00 312.13H115.20M957.50 312.13H949.30M107.00 305.51H115.20M957.50 305.51H949.30M107.00 299.60H124.00M957.50 299.60H940.50M107.00 260.69H115.20M957.50 260.69H949.30M107.00 237.93H115.20M957.50 237.93H949.30M107.00 221.79H115.20M957.50 221.79H949.30M107.00 209.26H115.20M957.50 209.26H949.30M107.00 199.03H115.20M957.50 199.03H949.30M107.00 190.37H115.20M957.50 190.37H949.30M107.00 182.88H115.20M957.50 182.88H949.30M107.00 176.27H115.20M957.50 176.27H949.30M107.00 170.35H124.00M957.50 170.35H940.50M107.00 131.45H115.20M957.50 131.45H949.30M107.00 108.69H115.20M957.50 108.69H949.30M107.00 92.54H115.20M957.50 92.54H949.30M107.00 80.01H115.20M957.50 80.01H949.30M107.00 69.78H115.20M957.50 69.78H949.30M107.00 61.13H115.20M957.50 61.13H949.30M107.00 53.63H115.20M957.50 53.63H949.30M107.00 47.02H115.20M957.50 47.02H949.30M107.00 41.11H124.00M957.50 41.11H940.50M107.00 2.20H115.20M957.50 2.20H949.30M106.28 2.20H958.23M106.28 597.00H958.23" stroke="#000" stroke-width="1.95" fill="none"/>
<text x="107.0" y="630.0" text-anchor="middle" font-size="35.0">1</text>
<text x="497.5" y="630.0" text-anchor="middle" font-size="35.0">10</text>
<text x="888.0" y="630.0" text-anchor="middle" font-size="35.0">100</text>
<text x="100.6" y="60.2" text-anchor="end" font-size="35.0">10<tspan font-size="24.5" dy="-21.2">0</tspan></text>
<text x="100.6" y="189.5" text-anchor="end" font-size="35.0">10<tspan font-size="24.5" dy="-21.2">-1</tspan></text>
<text x="100.6" y="318.7" text-anchor="end" font-size="35.0">10<tspan font-size="24.5" dy="-21.2">-2</tspan></text>
<text x="100.6" y="447.9" text-anchor="end" font-size="35.0">10<tspan font-size="24.5" dy="-21.2">-3</tspan></text>
<text x="100.6" y="577.2" text-anchor="end" font-size="35.0">10<tspan font-size="24.5" dy="-21.2">-4</tspan></text>
<text x="532.5" y="662.0" text-anchor="middle" font-size="35.2">time step</text>
<text transform="translate(27.0 298.8) rotate(-90)" text-anchor="middle" font-size="35.2">negativity or TVD</text>
</svg>
</body></html>
